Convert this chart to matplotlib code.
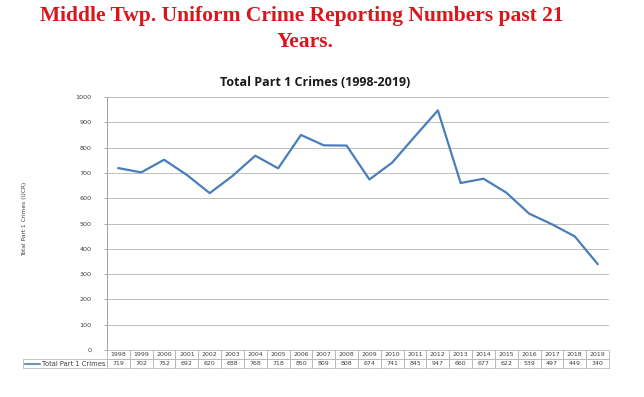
import matplotlib
matplotlib.use("Agg")
import matplotlib.pyplot as plt
from matplotlib.patches import Rectangle
import matplotlib.transforms as mtransforms

years = ["1998", "1999", "2000", "2001", "2002", "2003", "2004", "2005", "2006", "2007", "2008",
         "2009", "2010", "2011", "2012", "2013", "2014", "2015", "2016", "2017", "2018", "2019"]
crimes = [719, 702, 752, 692, 620, 688, 768, 718, 850, 809, 808,
          674, 741, 845, 947, 660, 677, 622, 539, 497, 449, 340]
series_name = "Total Part 1 Crimes"
yticks = [0, 100, 200, 300, 400, 500, 600, 700, 800, 900, 1000]

W, H = 644, 397
fig = plt.figure(figsize=(W / 100, H / 100), dpi=100)
fig.patch.set_facecolor("white")

ax_l, ax_r, ax_t, ax_b = 107, 609, 97, 350
ax = fig.add_axes([ax_l / W, 1 - ax_b / H, (ax_r - ax_l) / W, (ax_b - ax_t) / H])
ax_w = ax_r - ax_l
ax_h = ax_b - ax_t

line_color = "#4A7EBB"
x = list(range(len(years)))
ax.plot(x, crimes, color=line_color, lw=1.6, solid_joinstyle="round")
ax.set_xlim(-0.5, len(years) - 0.5)
ax.set_ylim(0, 1000)
ax.set_yticks(yticks)
ax.set_yticklabels([str(v) for v in yticks], fontsize=4.6, color="#404040")
ax.set_xticks([])
ax.yaxis.grid(True, color="#BFBFBF", lw=0.7)
ax.set_axisbelow(True)
for s in ["top", "right", "bottom"]:
    ax.spines[s].set_visible(False)
ax.spines["left"].set_color("#A0A0A0")
ax.spines["left"].set_linewidth(0.7)
ax.tick_params(axis="y", length=2.5, width=0.6, color="#A0A0A0", pad=8.5)
ax.set_ylabel("Total Part 1 Crimes (UCR)", fontsize=4.2, color="#404040")
ax.yaxis.set_label_coords((27 - ax_l) / ax_w, (ax_b - 219) / ax_h)

# data table drawn below the axes
row_h = 9 / ax_h
row0_y = -row_h            # years row
row1_y = -2 * row_h        # values row
edge = "#B8B8B8"
txt_kw = dict(fontsize=4.5, color="#404040", ha="center", va="center", clip_on=False)
blend = mtransforms.blended_transform_factory(ax.transData, ax.transAxes)
for j, (yr, v) in enumerate(zip(years, crimes)):
    for yy, s in ((row0_y, yr), (row1_y, str(v))):
        ax.add_patch(Rectangle((j - 0.5, yy), 1, row_h, transform=blend, fill=False,
                               edgecolor=edge, lw=0.6, clip_on=False))
        ax.text(j, yy + row_h / 2, s, transform=blend, **txt_kw)

lab_x0 = (23 - ax_l) / ax_w
ax.add_patch(Rectangle((lab_x0, row1_y), -lab_x0, row_h, transform=ax.transAxes, fill=False,
                       edgecolor=edge, lw=0.6, clip_on=False))
ax.text(-2 / ax_w, row1_y + row_h / 2, series_name, transform=ax.transAxes,
        fontsize=4.9, color="#404040", ha="right", va="center", clip_on=False)
ax.plot([(25 - ax_l) / ax_w, (40 - ax_l) / ax_w], [row1_y + row_h / 2] * 2,
        transform=ax.transAxes, color=line_color, lw=1.2, clip_on=False)

# titles
title_kw = dict(ha="center", va="baseline", fontsize=15.5, fontweight="bold",
                color="#D9161C", family="Liberation Serif")
fig.text(302 / W, 1 - 21 / H, "Middle Twp. Uniform Crime Reporting Numbers past 21", **title_kw)
fig.text(305 / W, 1 - 47 / H, "Years.", **title_kw)
fig.text(315 / W, 1 - 82 / H, "Total Part 1 Crimes (1998-2019)", ha="center", va="center",
         fontsize=9, fontweight="bold", color="#1a1a1a", family="Open Sans")

fig.savefig("out.png", dpi=100, facecolor="white")
